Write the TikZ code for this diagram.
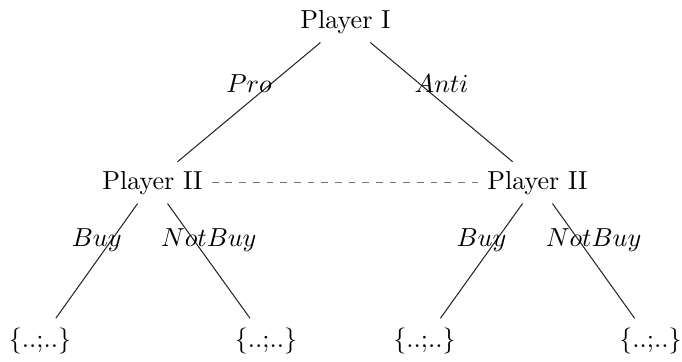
\documentclass[tikz,border=0pt]{standalone}
\begin{document}
\begin{tikzpicture}[x=0.384pt,y=-0.384pt,
  player/.style={anchor=base, inner sep=3.33pt},
  leaf/.style={anchor=base, inner sep=3.33pt},
  edge/.style={draw=black!85, line width=0.4pt},
  info/.style={draw=black!55, line width=0.4pt, dash pattern=on 2.6pt off 2.65pt},
  lbl/.style={midway, above, inner sep=3.33pt}]
\useasboundingbox (0,0) rectangle (682,361);
\node[player] (p1) at (345.5,28) {Player I};
\node[player] (p2l) at (152.5,189) {Player II};
\node[player] (p2r) at (537.5,189) {Player II};
\node[leaf] (l1) at (40,347) {$\{..{;}..\}$};
\node[leaf] (l2) at (266,347) {$\{..{;}..\}$};
\node[leaf] (l3) at (424.5,347) {$\{..{;}..\}$};
\node[leaf] (l4) at (650.5,347) {$\{..{;}..\}$};
\draw[edge] (p1) -- (p2l) node[lbl] {$Pro$};
\draw[edge] (p1) -- (p2r) node[lbl] {$Anti$};
\draw[edge] (p2l) -- (l1) node[lbl] {$Buy$};
\draw[edge] (p2l) -- (l2) node[lbl] {$NotBuy$};
\draw[edge] (p2r) -- (l3) node[lbl] {$Buy$};
\draw[edge] (p2r) -- (l4) node[lbl] {$NotBuy$};
\draw[info] (p2l) -- (p2r);
\end{tikzpicture}
\end{document}
